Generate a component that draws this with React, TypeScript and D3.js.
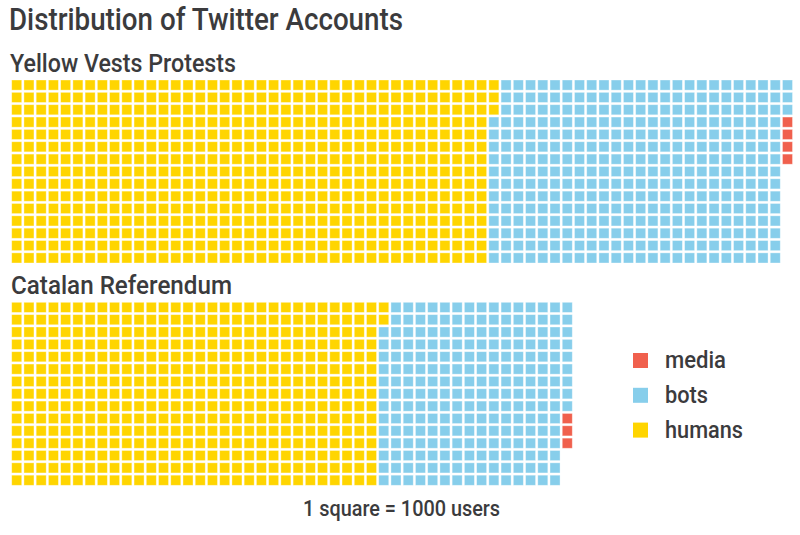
import React, { useEffect, useRef } from 'react';
import * as d3 from 'd3';

// waffle data: 1 square = 1000 users
const categories = ['humans', 'bots', 'media'];
const yellowVestsCounts = [588, 360, 4];
const catalanCounts = [452, 232, 3];
const legendOrder = ['media', 'bots', 'humans'];
const colors = ['#FFD500', '#87CEEB', '#F0604D'];

const FONT = "Roboto, 'DejaVu Sans Condensed', sans-serif";
const INK = '#3b3b3d';

const App: React.FC = () => {
  const svgRef = useRef<SVGSVGElement>(null);

  useEffect(() => {
    if (!svgRef.current) return;

    const width = 800;
    const height = 535;
    const rows = 15;
    const maxCols = 64;
    const pitch = 12.2;

    const svg = d3.select(svgRef.current)
      .attr('width', width)
      .attr('height', height)
      .html('');

    const color = d3.scaleOrdinal<string, string>().domain(categories).range(colors);

    const xScale = d3.scaleBand<number>()
      .domain(d3.range(maxCols))
      .range([11.7, 11.7 + maxCols * pitch])
      .paddingInner(0.18)
      .paddingOuter(0);
    const yScale = d3.scaleBand<number>()
      .domain(d3.range(rows))
      .range([0, rows * pitch])
      .paddingInner(0.18)
      .paddingOuter(0);

    // condensed look: squeeze text to the measured width
    const label = (x: number, y: number, size: number, len: number, txt: string) =>
      svg.append('text')
        .attr('x', x).attr('y', y)
        .attr('textLength', len)
        .attr('lengthAdjust', 'spacingAndGlyphs')
        .style('font-family', FONT)
        .style('font-weight', 500)
        .style('font-size', `${size}px`)
        .style('fill', INK)
        .text(txt);

    const drawWaffle = (counts: number[], top: number) => {
      // expand counts into cells, filled column by column, top to bottom
      const cells: { cat: string; i: number }[] = [];
      counts.forEach((c, k) => {
        for (let j = 0; j < c; j++) cells.push({ cat: categories[k], i: cells.length });
      });
      const g = svg.append('g').attr('transform', `translate(0, ${top})`);
      g.selectAll('rect')
        .data(cells)
        .enter().append('rect')
        .attr('x', d => xScale(Math.floor(d.i / rows)) as number)
        .attr('y', d => yScale(d.i % rows) as number)
        .attr('width', xScale.bandwidth())
        .attr('height', yScale.bandwidth())
        .style('fill', d => color(d.cat))
        .style('stroke', 'rgba(255,255,255,0.45)')
        .style('stroke-width', 0.8);
    };

    label(9, 30, 31, 394, 'Distribution of Twitter Accounts');
    label(10, 72, 26.5, 226, 'Yellow Vests Protests');
    drawWaffle(yellowVestsCounts, 80);

    label(11, 294, 26.5, 221, 'Catalan Referendum');
    drawWaffle(catalanCounts, 302.3);

    // legend
    const legend = svg.append('g').attr('transform', 'translate(633, 353)');
    const legendWidths: Record<string, number> = { media: 61, bots: 43, humans: 78 };
    const item = legend.selectAll('g')
      .data(legendOrder)
      .enter().append('g')
      .attr('transform', (d, i) => `translate(0, ${i * 34.8})`);
    item.append('rect')
      .attr('width', 15).attr('height', 15)
      .style('fill', d => color(d));
    item.append('text')
      .attr('x', 32).attr('y', 15)
      .attr('textLength', d => legendWidths[d])
      .attr('lengthAdjust', 'spacingAndGlyphs')
      .style('font-family', FONT)
      .style('font-weight', 500)
      .style('font-size', '23px')
      .style('fill', INK)
      .text(d => d);

    label(303, 515.5, 22, 197, '1 square = 1000 users');
  }, []);

  return (
    <svg ref={svgRef} style={{ position: 'absolute', left: 0, top: 0, background: '#fff' }}></svg>
  );
};

export default App;
